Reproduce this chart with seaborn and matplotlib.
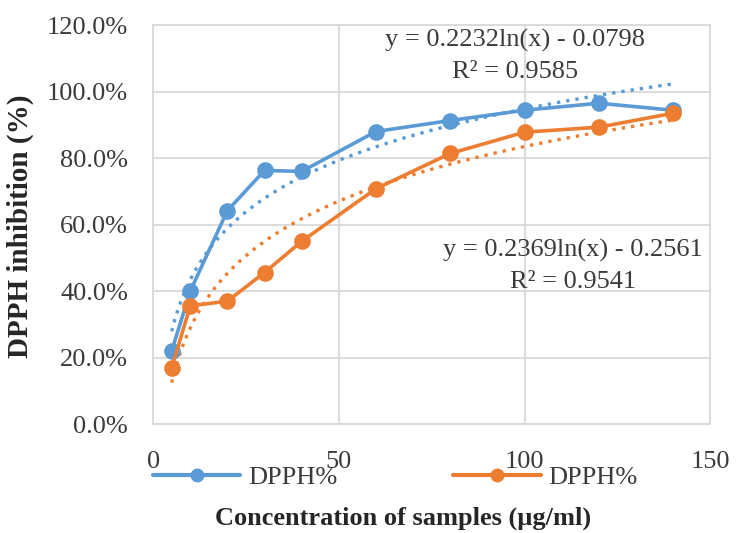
import numpy as np
import pandas as pd
import matplotlib
matplotlib.use('Agg')
import matplotlib.pyplot as plt
from matplotlib.ticker import FuncFormatter
import seaborn as sns

# data
conc = [5, 10, 20, 30, 40, 60, 80, 100, 120, 140]
dpph_blue = [0.22, 0.40, 0.642, 0.763, 0.76, 0.88, 0.913, 0.944, 0.965, 0.944]
dpph_orange = [0.169, 0.356, 0.37, 0.456, 0.55, 0.708, 0.814, 0.878, 0.893, 0.935]

# log trendline coefficients shown on the chart: y = a*ln(x) + b
trend_blue = (0.2232, -0.0798)
trend_orange = (0.2369, -0.2561)
eq_blue = ['y = 0.2232ln(x) - 0.0798', 'R² = 0.9585']
eq_orange = ['y = 0.2369ln(x) - 0.2561', 'R² = 0.9541']

blue = '#5B9BD5'
orange = '#ED7D31'
fs = 19

sns.set_style('white')
plt.rcParams['font.family'] = ['Liberation Serif', 'DejaVu Serif']

df = pd.DataFrame({
    'conc': conc * 2,
    'val': dpph_blue + dpph_orange,
    'series': ['blue'] * len(conc) + ['orange'] * len(conc),
})

fig = plt.figure(figsize=(7.36, 5.33), dpi=100)
ax = fig.add_axes([0.208, 0.204, 0.757, 0.749])

# dotted log trendlines
xt = np.linspace(min(conc), max(conc), 200)
for (a, b), c in [(trend_blue, blue), (trend_orange, orange)]:
    ax.plot(xt, a * np.log(xt) + b, color=c, lw=2.4, ls=(0, (1, 1.8)), zorder=2)

sns.lineplot(data=df, x='conc', y='val', hue='series', palette=[blue, orange],
             marker='o', markersize=12, markeredgewidth=0, linewidth=2.6,
             ax=ax, legend=False, zorder=3)

ax.set_xlim(0, 150)
ax.set_ylim(0, 1.2)
ax.set_xticks([0, 50, 100, 150])
ax.set_yticks(np.arange(0, 1.21, 0.2))
ax.yaxis.set_major_formatter(FuncFormatter(lambda v, p: f'{v*100:.1f}%'))
ax.grid(True, color='#d9d9d9', lw=1.3)
for s in ax.spines.values():
    s.set_color('#d9d9d9')
    s.set_linewidth(1.3)
ax.tick_params(axis='both', labelsize=fs, colors='#3a3a3a', length=0)
ax.tick_params(axis='y', pad=18)
ax.tick_params(axis='x', pad=19)

ax.set_xlabel('Concentration of samples (µg/ml)', fontsize=fs, fontweight='bold', va='top')
ax.xaxis.set_label_coords(0.449, -0.205)
ax.set_ylabel('DPPH inhibition (%)', fontsize=fs + 2, fontweight='bold')
ax.yaxis.set_label_coords(-0.214, 0.497)

# equation labels
tc = '#3a3a3a'
ax.text(0.65, 0.99, eq_blue[0], transform=ax.transAxes, ha='center', va='top', fontsize=fs, color=tc)
ax.text(0.65, 0.91, eq_blue[1], transform=ax.transAxes, ha='center', va='top', fontsize=fs, color=tc)
ax.text(0.754, 0.465, eq_orange[0], transform=ax.transAxes, ha='center', va='top', fontsize=fs, color=tc)
ax.text(0.754, 0.385, eq_orange[1], transform=ax.transAxes, ha='center', va='top', fontsize=fs, color=tc)

# legend sits over the x tick labels like in the original
handles = [plt.Line2D([], [], color=blue, marker='o', markersize=9, lw=3),
           plt.Line2D([], [], color=orange, marker='o', markersize=9, lw=3)]
leg = fig.legend(handles, ['DPPH%', 'DPPH%'], loc='center left', bbox_to_anchor=(0.208, 0.105),
                 ncol=2, frameon=False, fontsize=fs, handlelength=3.3, columnspacing=4.4,
                 handletextpad=0.3, borderpad=0, borderaxespad=0)
for t in leg.get_texts():
    t.set_color(tc)

fig.savefig('out.png', dpi=100)
